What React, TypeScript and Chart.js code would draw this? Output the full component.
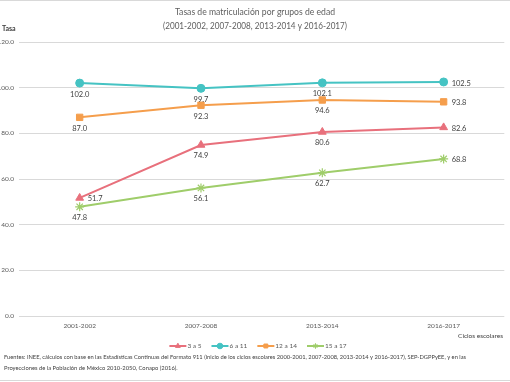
import React, { useEffect, useRef } from "react";
import { Chart, registerables } from "chart.js";
import { drawPoint } from "chart.js/helpers";

Chart.register(...registerables);

const categories = ["2001-2002", "2007-2008", "2013-2014", "2016-2017"];
const seriesNames = ["3 a 5", "6 a 11", "12 a 14", "15 a 17"];
const values3a5 = [51.7, 74.9, 80.6, 82.6];
const values6a11 = [102.0, 99.7, 102.1, 102.5];
const values12a14 = [87.0, 92.3, 94.6, 93.8];
const values15a17 = [47.8, 56.1, 62.7, 68.8];
const yTickValues = [0, 20, 40, 60, 80, 100, 120];

const titleLines = [
  "Tasas de matriculación por grupos de edad",
  "(2001-2002, 2007-2008, 2013-2014 y 2016-2017)",
];
const yAxisTitle = "Tasa";
const xAxisTitle = "Ciclos escolares";
const footnoteLines = [
  "Fuentes: INEE, cálculos con base en las Estadísticas Continuas del Formato 911 (inicio de los ciclos escolares 2000-2001, 2007-2008, 2013-2014 y 2016-2017), SEP-DGPPyEE, y en las",
  "Proyecciones de la Población de México 2010-2050, Conapo (2016).",
];

// label placement per point (style only)
const labelPos = [
  ["right", "below", "below", "right"],
  ["below", "below", "below", "right"],
  ["below", "below", "below", "right"],
  ["below", "below", "below", "right"],
];

const colors = ["#E8707C", "#45C3C3", "#F59E4C", "#9FCD6A"];
const pointStyles = ["triangle", "circle", "rect", "star"];
const pointRadii = [4.5, 4, 4.5, 4.5];
const FONT = "Lato, 'Open Sans', sans-serif";

const textPlugin = {
  id: "customText",
  afterDatasetsDraw(chart: any) {
    const ctx = chart.ctx;
    ctx.save();
    // data labels
    ctx.font = `7.5px ${FONT}`;
    ctx.fillStyle = "#404040";
    chart.data.datasets.forEach((ds: any, di: number) => {
      const meta = chart.getDatasetMeta(di);
      meta.data.forEach((pt: any, i: number) => {
        const txt = Number(ds.data[i]).toFixed(1);
        const pos = labelPos[di][i];
        if (pos === "below") {
          ctx.textAlign = "center";
          ctx.textBaseline = "middle";
          ctx.fillText(txt, pt.x, pt.y + 11);
        } else {
          ctx.textAlign = "left";
          ctx.textBaseline = "middle";
          ctx.fillText(txt, pt.x + 8, pt.y + (di === 1 ? 2 : 1));
        }
      });
    });
    ctx.restore();
  },
  afterDraw(chart: any) {
    const ctx = chart.ctx;
    const w = chart.width;
    ctx.save();
    // frame lines
    ctx.strokeStyle = "#D9D9D9";
    ctx.lineWidth = 1;
    ctx.beginPath();
    ctx.moveTo(0, 0.5);
    ctx.lineTo(w, 0.5);
    ctx.moveTo(0, 380.5);
    ctx.lineTo(w, 380.5);
    ctx.stroke();
    // x tick labels (positions from the library's category scale)
    const xs = chart.scales.x;
    ctx.fillStyle = "#595959";
    ctx.font = `6.5px ${FONT}`;
    ctx.textAlign = "center";
    ctx.textBaseline = "middle";
    categories.forEach((c, i) => {
      ctx.fillText(c, xs.getPixelForValue(i), chart.chartArea.bottom + 10);
    });
    // title
    ctx.fillStyle = "#606060";
    ctx.font = `9.5px ${FONT}`;
    ctx.textAlign = "center";
    ctx.textBaseline = "middle";
    ctx.fillText(titleLines[0], 255, 12, 160);
    ctx.fillText(titleLines[1], 255, 26, 184);
    // y axis title
    ctx.fillStyle = "#404040";
    ctx.font = `bold 7px ${FONT}`;
    ctx.textAlign = "left";
    ctx.fillText(yAxisTitle, 2, 29);
    // x axis title
    ctx.font = `6.5px ${FONT}`;
    ctx.textAlign = "right";
    ctx.fillText(xAxisTitle, 503, 336);
    // legend
    ctx.font = `6.5px ${FONT}`;
    const items = seriesNames.map((n) => ({ n, tw: ctx.measureText(n).width }));
    const seg = 17;
    const spacing = 10;
    let total = 0;
    items.forEach((it, i) => {
      total += seg + 1 + it.tw + (i < items.length - 1 ? spacing : 0);
    });
    let x = 258 - total / 2;
    const ly = 346;
    items.forEach((it, i) => {
      ctx.strokeStyle = colors[i];
      ctx.fillStyle = colors[i];
      ctx.lineWidth = 2;
      ctx.beginPath();
      ctx.moveTo(x, ly);
      ctx.lineTo(x + seg, ly);
      ctx.stroke();
      ctx.lineWidth = 1;
      drawPoint(ctx, { pointStyle: pointStyles[i], radius: 2.8, rotation: 0, borderWidth: 1 } as any, x + seg / 2, ly);
      ctx.fillStyle = "#595959";
      ctx.textAlign = "left";
      ctx.textBaseline = "middle";
      ctx.fillText(it.n, x + seg + 1, ly);
      x += seg + 1 + it.tw + spacing;
    });
    // footnote
    ctx.fillStyle = "#404040";
    ctx.font = `5.8px ${FONT}`;
    ctx.textAlign = "left";
    ctx.fillText(footnoteLines[0], 4, 357, 462);
    ctx.fillText(footnoteLines[1], 4, 368);
    ctx.restore();
  },
};

export default function App() {
  const ref = useRef<HTMLCanvasElement>(null);
  useEffect(() => {
    if (!ref.current) return;
    const seriesValues = [values3a5, values6a11, values12a14, values15a17];
    const chart = new Chart(ref.current, {
      type: "line",
      data: {
        labels: categories,
        datasets: seriesNames.map((name, i) => ({
          label: name,
          data: seriesValues[i],
          borderColor: colors[i],
          backgroundColor: colors[i],
          borderWidth: 2,
          pointStyle: pointStyles[i] as any,
          pointRadius: pointRadii[i],
          pointBorderWidth: i === 3 ? 1.2 : 1,
          pointBackgroundColor: colors[i],
          pointBorderColor: colors[i],
          tension: 0,
        })),
      },
      options: {
        responsive: false,
        animation: false,
        devicePixelRatio: 1,
        layout: { padding: { top: 42, bottom: 48, left: 0, right: 1 } },
        plugins: {
          legend: { display: false },
          title: { display: false },
          tooltip: { enabled: false },
        },
        scales: {
          x: {
            type: "category",
            offset: true,
            grid: { display: false },
            border: { display: false },
            ticks: { display: false },
            afterFit(scale: any) {
              scale.height = 18;
            },
          },
          y: {
            min: 0,
            max: 120,
            afterBuildTicks(scale: any) {
              scale.ticks = yTickValues.map((v) => ({ value: v }));
            },
            grid: { color: "#D9D9D9", lineWidth: 1, drawTicks: false },
            border: { display: false },
            ticks: {
              padding: 5,
              color: "#595959",
              font: { family: FONT, size: 6.5 },
              callback: (v: any) => Number(v).toFixed(1),
            },
            afterFit(scale: any) {
              scale.width = 19;
            },
          },
        },
      },
      plugins: [textPlugin],
    });
    return () => chart.destroy();
  }, []);
  return (
    <div style={{ position: "fixed", left: 0, top: 0, width: 510, height: 382, background: "#fff" }}>
      <canvas ref={ref} width={510} height={382} style={{ display: "block", width: 510, height: 382 }} />
    </div>
  );
}
